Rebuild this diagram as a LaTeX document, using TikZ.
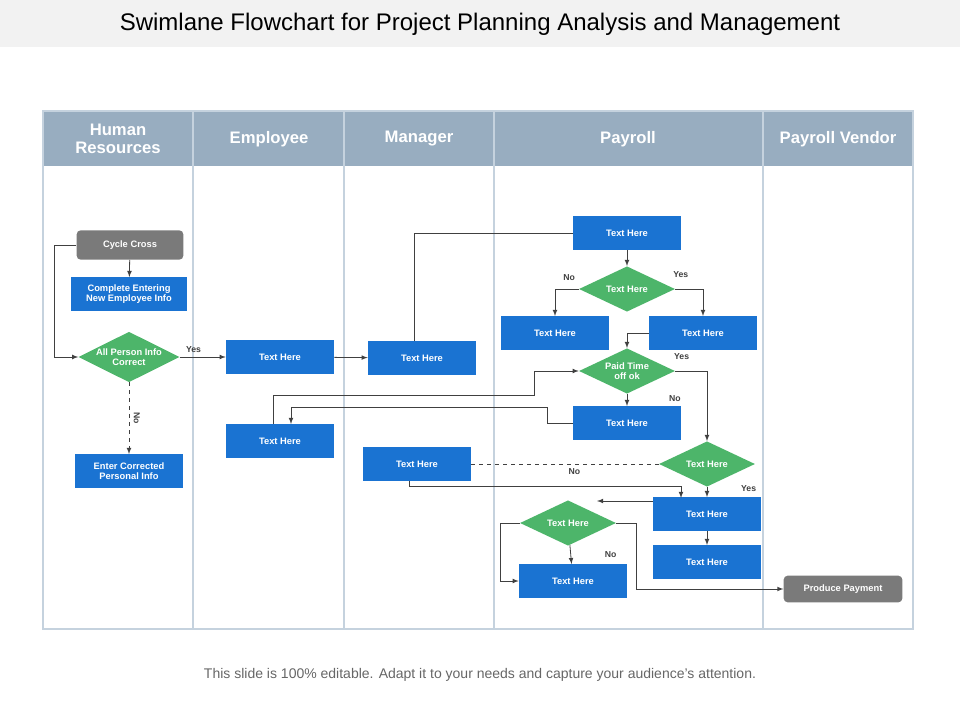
\documentclass[tikz,border=0pt]{standalone}
\usepackage{fontspec}
\setmainfont{Liberation Sans}
\usetikzlibrary{shapes.geometric}
\definecolor{boxblue}{HTML}{1A73D2}
\definecolor{decgreen}{HTML}{4DB56A}
\definecolor{stepgray}{HTML}{7A7A7A}
\definecolor{headgray}{HTML}{98ADC0}
\definecolor{lanegray}{HTML}{C5D2DE}
\tikzset{
  task/.style={fill=boxblue,text=white,font=\bfseries\fontsize{7}{8}\selectfont,
    minimum width=81pt,minimum height=25pt,align=center,inner sep=1pt},
  decide/.style={diamond,aspect=2,fill=decgreen,text=white,
    font=\bfseries\fontsize{7}{8}\selectfont,minimum width=72pt,minimum height=34pt,
    align=center,inner sep=0pt},
  terminal/.style={fill=stepgray,text=white,rounded corners=3pt,
    font=\bfseries\fontsize{7}{8}\selectfont,minimum width=80pt,minimum height=22pt},
  flow/.style={draw=black!75,line width=0.6pt,-latex},
  lbl/.style={font=\bfseries\fontsize{6.5}{7}\selectfont,text=black!75},
  head/.style={text=white,font=\bfseries\fontsize{12.5}{14}\selectfont,align=center}
}
\begin{document}
\begin{tikzpicture}[x=0.75pt,y=-0.75pt]
\useasboundingbox (0,0) rectangle (960,720);
% title and frame
\fill[black!5] (0,0) rectangle (960,47);
\node (title) at (480,24) {\fontsize{18}{20}\selectfont Swimlane Flowchart for Project Planning Analysis and Management};
\fill[headgray] (43,111) rectangle (913,166);
\draw[lanegray,line width=0.8pt] (43,111) rectangle (913,629);
\foreach \x in {193,344,494,763} \draw[lanegray,line width=0.8pt] (\x,111) -- (\x,629);
\node[head] (h1) at (118,139) {Human\\Resources};
\node[head] (h2) at (269,139) {Employee};
\node[head] (h3) at (419,139) {Manager};
\node[head] (h4) at (628,139) {Payroll};
\node[head] (h5) at (838,139) {Payroll Vendor};
\node[text=black!60] (foot) at (480,675) {\fontsize{10.5}{12}\selectfont This slide is 100\% editable. Adapt it to your needs and capture your audience's attention.};

% nodes
\node[terminal] (cycle) at (130,245) {Cycle Cross};
\node[task,minimum width=87pt] (complete) at (129,294) {Complete Entering\\New Employee Info};
\node[decide] (check) at (129,357) {All Person Info\\Correct};
\node[task] (enter) at (129,471) {Enter Corrected\\Personal Info};
\node[task] (e1) at (280,357) {Text Here};
\node[task] (e2) at (280,441) {Text Here};
\node[task] (m1) at (422,358) {Text Here};
\node[task] (m2) at (417,464) {Text Here};
\node[task] (p1) at (627,233) {Text Here};
\node[decide] (d1) at (627,289) {Text Here};
\node[task] (p2) at (555,333) {Text Here};
\node[task] (p3) at (703,333) {Text Here};
\node[decide] (d2) at (627,371) {Paid Time\\off ok};
\node[task] (p4) at (627,423) {Text Here};
\node[decide] (d3) at (707,464) {Text Here};
\node[task] (p5) at (707,514) {Text Here};
\node[task] (p6) at (707,562) {Text Here};
\node[decide] (d4) at (568,523) {Text Here};
\node[task] (p7) at (573,581) {Text Here};
\node[terminal,minimum width=89pt,minimum height=20pt] (pay) at (843,589) {Produce Payment};
\coordinate (tip) at (597,501);

% connectors
\draw[flow] (cycle.west) -- (54,245) |- (check.west);
\draw[flow] (cycle) -- (complete);
\draw[flow] (check.east) -- node[lbl,above,pos=0.3] {Yes} (e1.west);
\draw[flow,dashed] (check.south) -- node[lbl,right,rotate=-90,anchor=south,xshift=0pt] {No} (enter.north);
\draw[flow] (e1) -- (m1);
\draw[draw=black!75,line width=0.6pt] (m1.north -| 414,0) |- (p1.west);
\draw[flow] (p1) -- (d1);
\draw[flow] (d1.west) -| node[lbl,pos=0.2,above=3pt] {No} (p2.north);
\draw[flow] (d1.east) -| node[lbl,pos=0.1,above=5pt] {Yes} (p3.north);
\draw[flow] (p3.west) -| (d2.north);
\draw[flow] (d2.east) -| node[lbl,pos=0.1,above=5pt] {Yes} (d3.north);
\draw[flow] (d2) -- node[lbl,right=28pt,pos=0.4] {No} (p4);
\draw[flow] (e2.north -| 273,0) |- (534,395) |- (d2.west);
\draw[flow] (p4.west) -- (547,423) |- (291,407) -- (291,424);
\draw[draw=black!75,line width=0.6pt,dashed] (d3.west) -- node[lbl,below,pos=0.45] {No} (m2.east);
\draw[flow] (m2.south -| 409,0) |- (681,486) -- (681,498);
\draw[flow] (d3) -- node[lbl,right=22pt,pos=0.2] {Yes} (p5);
\draw[flow] (p5.west |- 0,501) -- (tip);
\draw[flow] (p5) -- (p6);
\draw[flow] (d4) -- node[lbl,right=22pt] {No} (p7);
\draw[flow] (d4.west) -- (500,523) |- (p7.west);
\draw[flow] (d4.east) -- (636,523) |- (pay.west);
\end{tikzpicture}
\end{document}
